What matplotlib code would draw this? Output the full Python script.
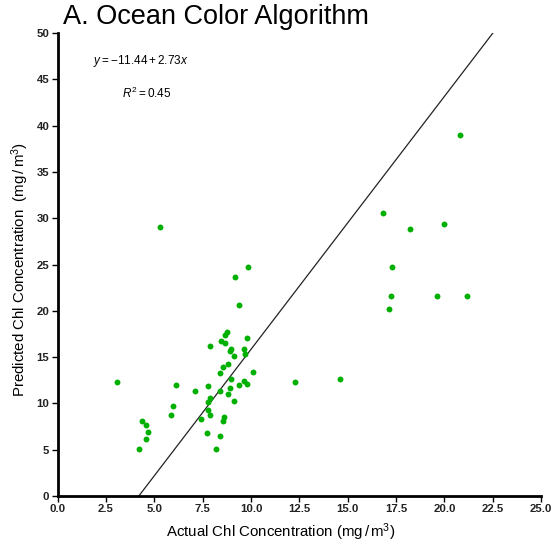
import matplotlib
matplotlib.use("Agg")
import matplotlib.pyplot as plt
import numpy as np

plt.rcParams['font.family'] = ['Liberation Sans', 'DejaVu Sans']
plt.rcParams['mathtext.fontset'] = 'custom'
plt.rcParams['mathtext.rm'] = 'Liberation Sans'
plt.rcParams['mathtext.it'] = 'Liberation Sans:italic'

actual = [5.31, 3.05, 6.10, 5.96, 5.84, 4.38, 4.58, 4.66, 4.58, 4.19,
          8.76, 8.65, 9.78, 7.86, 8.46, 8.63, 8.97, 8.90, 9.65, 9.71,
          9.12, 8.79, 8.53, 8.41, 10.10, 8.95, 9.65, 9.77, 9.39, 7.75,
          7.09, 8.93, 8.37, 8.79, 7.86, 9.12, 7.75, 7.75, 7.88, 7.43,
          8.61, 8.53, 7.74, 8.40, 8.21, 9.85, 9.19, 9.38, 12.29, 14.59,
          20.78, 16.83, 18.21, 19.97, 17.29, 17.23, 19.59, 21.17, 17.14]
predicted = [29.02, 12.37, 12.01, 9.76, 8.74, 8.06, 7.69, 6.87, 6.12, 5.04,
             17.72, 17.37, 17.12, 16.20, 16.77, 16.54, 15.89, 15.64, 15.91, 15.29,
             15.16, 14.24, 13.95, 13.30, 13.45, 12.64, 12.41, 12.14, 11.97, 11.87,
             11.33, 11.62, 11.31, 11.06, 10.55, 10.32, 10.14, 9.35, 8.72, 8.28,
             8.49, 8.12, 6.76, 6.47, 5.04, 24.70, 23.66, 20.64, 12.27, 12.62,
             38.94, 30.60, 28.88, 29.42, 24.70, 21.58, 21.58, 21.58, 20.25]

intercept = -11.44
slope = 2.73
r_squared = 0.45

x_ticks = [0.0, 2.5, 5.0, 7.5, 10.0, 12.5, 15.0, 17.5, 20.0, 22.5, 25.0]
y_ticks = [0, 5, 10, 15, 20, 25, 30, 35, 40, 45, 50]

fig = plt.figure(figsize=(5.55, 5.5), dpi=100)
ax = fig.add_axes([0.104, 0.098, 0.871, 0.842])

ax.scatter(actual, predicted, s=18, color='#00b000', marker='o',
           linewidths=0, zorder=3)

ymin, ymax = 0, 50
x_line = np.array([(ymin - intercept) / slope, (ymax - intercept) / slope])
ax.plot(x_line, intercept + slope * x_line, color='#222222', lw=0.9, zorder=2)

ax.set_xlim(0, 25)
ax.set_ylim(0, 50)
ax.set_xticks(x_ticks)
ax.set_xticklabels([f"{v:.1f}" for v in x_ticks])
ax.set_yticks(y_ticks)
ax.set_yticklabels([str(v) for v in y_ticks])

for s in ['top', 'right']:
    ax.spines[s].set_visible(False)
for s in ['left', 'bottom']:
    ax.spines[s].set_linewidth(2.0)
ax.tick_params(direction='out', length=4, width=1, labelsize=8.2, pad=2)
for lab in ax.get_xticklabels() + ax.get_yticklabels():
    lab.set_fontweight('bold')
    lab.set_color('#222222')

ax.set_xlabel('Actual Chl Concentration (mg$\\,/\\,$m$^3$)', fontsize=10.8)
ax.xaxis.set_label_coords(0.462, -0.055)
ax.set_ylabel('Predicted Chl Concentration  (mg$\\,/\\,$m$^3$)', fontsize=10.8)
ax.yaxis.set_label_coords(-0.055, 0.49)

eq = f"$y = -{abs(intercept):.2f} + {slope:.2f}x$"
ax.text(1.8, 47.0, eq, fontsize=8.5, va='center', ha='left')
ax.text(3.3, 43.5, f"$R^2 = {r_squared:.2f}$", fontsize=8.5, va='center', ha='left')

fig.text(0.113, 0.945, 'A. Ocean Color Algorithm', fontsize=19.5, ha='left', va='bottom')

fig.savefig('out.png', dpi=100)
